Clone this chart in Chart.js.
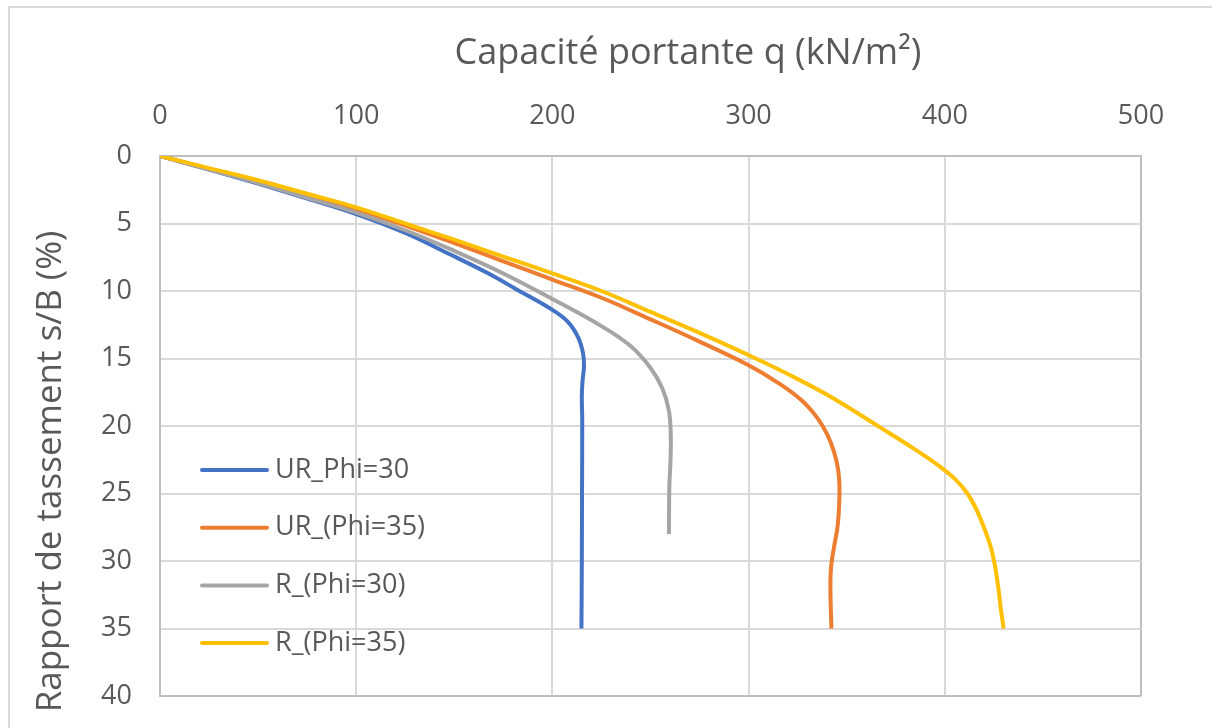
<!DOCTYPE html>
<html>
<head>
<meta charset="utf-8">
<script src="https://cdn.jsdelivr.net/npm/chart.js@4"></script>
<style>
  body { margin: 0; background: #fff; }
  #frame { position: absolute; left: 8px; top: 6px; width: 1210px; height: 728px;
           border-top: 2px solid #d9d9d9; border-left: 2px solid #d9d9d9; }
  #graphe { position: absolute; left: 0; top: 0; }
</style>
</head>
<body>
<div id="frame"></div>
<canvas id="graphe" width="1212" height="728"></canvas>
<script>
const ctx = document.getElementById('graphe');

const series = ['UR_Phi=30', 'UR_(Phi=35)', 'R_(Phi=30)', 'R_(Phi=35)'];
const couleurs = ['#4472C4', '#ED7D31', '#A5A5A5', '#FFC000'];

// capacité q (kN/m²) et tassement s/B (%)
const q_ur30 = [0, 25, 50, 75, 100, 125, 148, 166, 182, 200, 208, 213, 215.6, 216.1, 215.4, 215, 215.2, 215.1, 215, 214.8];
const s_ur30 = [0, 1.0, 2.05, 3.15, 4.3, 5.7, 7.3, 8.6, 9.9, 11.4, 12.3, 13.4, 14.6, 15.6, 16.6, 17.8, 19.5, 25, 30, 35];

const q_ur35 = [0, 25, 50, 75, 100, 125, 150, 175, 200, 225, 250, 275, 300, 315, 327, 335, 340, 343.5, 345.6, 346.3, 346.1, 345.3, 343.5, 342, 341.7, 342.2];
const s_ur35 = [0, 0.95, 1.9, 2.9, 3.95, 5.15, 6.45, 7.8, 9.15, 10.5, 12.1, 13.75, 15.5, 16.8, 18.1, 19.4, 20.6, 21.9, 23.2, 24.5, 26, 27.5, 29, 30.5, 32, 35];

const q_r30 = [0, 25, 50, 75, 100, 125, 148, 175, 200, 225, 240, 250, 256, 259.3, 260.3, 260.2, 259.6, 259.4];
const s_r30 = [0, 1.0, 2.0, 3.1, 4.2, 5.5, 6.9, 8.7, 10.6, 12.6, 14.1, 15.7, 17.2, 18.8, 20.5, 22.5, 24.5, 28];

const q_r35 = [0, 25, 50, 75, 100, 125, 150, 175, 200, 225, 250, 275, 300, 320, 342, 367, 385, 397, 405, 411.5, 416.5, 420.7, 423.5, 425.5, 427.3, 428.5, 430];
const s_r35 = [0, 0.9, 1.8, 2.8, 3.8, 5.0, 6.2, 7.45, 8.7, 10.0, 11.55, 13.1, 14.75, 16.15, 17.85, 20.1, 21.75, 22.95, 23.9, 25.0, 26.3, 27.8, 29, 30.3, 32, 33.5, 35];

const xTicks = [0, 100, 200, 300, 400, 500];
const yTicks = [0, 5, 10, 15, 20, 25, 30, 35, 40];

const points = (q, s) => q.map((v, i) => ({ x: v, y: s[i] }));
const courbes = [points(q_ur30, s_ur30), points(q_ur35, s_ur35), points(q_r30, s_r30), points(q_r35, s_r35)];

const gris = '#595959';
Chart.defaults.font.family = "'Open Sans'";
Chart.defaults.color = gris;

// légende à l'intérieur du graphe, comme dans Excel
const legendeInterne = {
    id: 'legendeInterne',
    afterDatasetsDraw(chart) {
        const c = chart.ctx;
        const a = chart.chartArea;
        c.save();
        c.font = "27px 'Open Sans'";
        c.textBaseline = 'middle';
        c.fillStyle = gris;
        c.lineCap = 'round';
        chart.data.datasets.forEach((ds, i) => {
            const y = a.top + 314 + i * 57.7;
            c.strokeStyle = ds.borderColor;
            c.lineWidth = 4;
            c.beginPath();
            c.moveTo(a.left + 42, y);
            c.lineTo(a.left + 107, y);
            c.stroke();
            c.fillText(ds.label, a.left + 115, y);
        });
        c.restore();
    }
};

const bordGrille = (ctx, bornes) => bornes.includes(ctx.tick.value) ? '#bfbfbf' : '#d9d9d9';

new Chart(ctx, {
    type: 'scatter',
    data: {
        datasets: series.map((nom, i) => ({
            label: nom,
            data: courbes[i],
            showLine: true,
            borderColor: couleurs[i],
            backgroundColor: couleurs[i],
            borderWidth: 4,
            pointRadius: 0,
            tension: 0.4,
            order: series.length - i
        }))
    },
    options: {
        responsive: false,
        animation: false,
        layout: { padding: { top: 10, left: 10, right: 71, bottom: 32 } },
        scales: {
            x: {
                type: 'linear',
                position: 'top',
                min: 0,
                max: 500,
                afterBuildTicks: (s) => { s.ticks = xTicks.map(v => ({ value: v })); },
                afterFit: (s) => { s.height = 146; },
                ticks: { padding: 23, font: { size: 27 }, color: gris },
                grid: { drawTicks: false, lineWidth: 2, color: (c) => bordGrille(c, [0, 500]) },
                border: { color: '#bfbfbf', width: 2 },
                title: {
                    display: true,
                    text: '        Capacité portante q (kN/m²)',
                    font: { size: 36 },
                    color: gris,
                    padding: { top: 22, bottom: 0 }
                }
            },
            y: {
                type: 'linear',
                reverse: true,
                min: 0,
                max: 40,
                afterBuildTicks: (s) => { s.ticks = yTicks.map(v => ({ value: v })); },
                afterFit: (s) => { s.width = 150; s.paddingTop = 0; s.paddingBottom = 0; },
                ticks: { padding: 28, font: { size: 27 }, color: gris },
                grid: { drawTicks: false, lineWidth: 2, color: (c) => bordGrille(c, [0, 40]) },
                border: { color: '#bfbfbf', width: 2 },
                title: {
                    display: true,
                    text: 'Rapport de tassement s/B (%)          ',
                    font: { size: 35 },
                    color: gris,
                    padding: { top: 20, bottom: 0 }
                }
            }
        },
        plugins: {
            legend: { display: false },
            tooltip: { enabled: false }
        }
    },
    plugins: [legendeInterne]
});
</script>
</body>
</html>
